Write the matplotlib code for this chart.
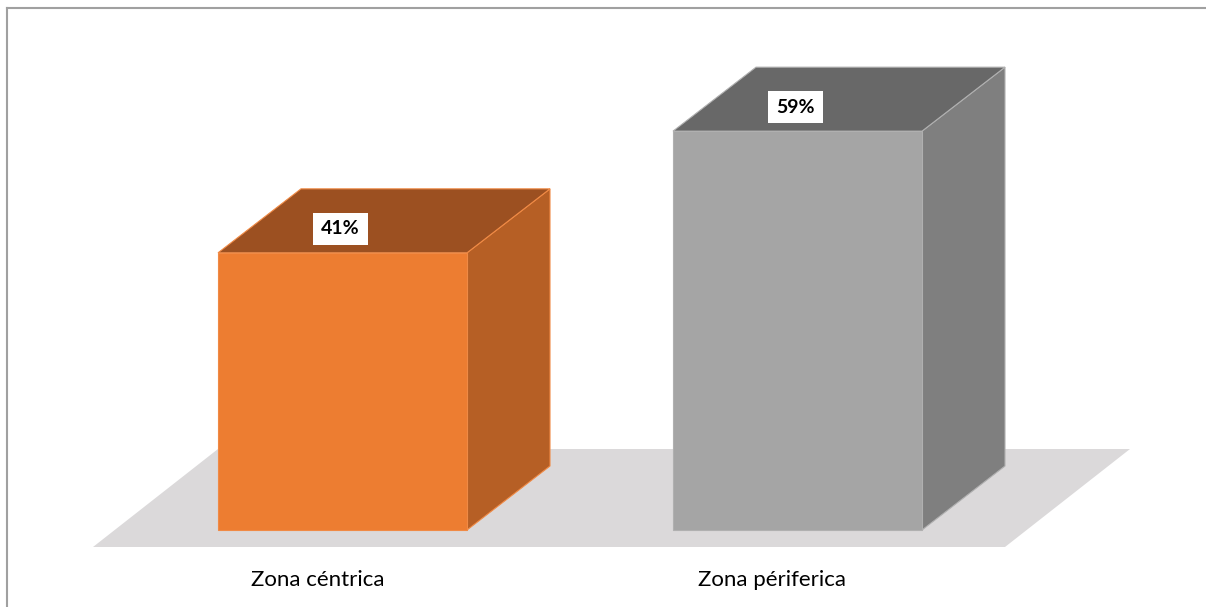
import matplotlib
matplotlib.use("Agg")
import matplotlib.pyplot as plt
from matplotlib.patches import Polygon
from matplotlib.lines import Line2D

categories = ["Zona céntrica", "Zona périferica"]
values = [41, 59]
labels = ["41%", "59%"]

front_colors = ["#ED7D31", "#A5A5A5"]
top_colors = ["#9C5021", "#686868"]
side_colors = ["#B65F25", "#7F7F7F"]
edge_colors = ["#F08A45", "#B0B0B0"]

W, H = 1206, 607
fig = plt.figure(figsize=(W / 100, H / 100), dpi=100)
ax = fig.add_axes([0, 0, 1, 1])

# pixel layout -> data units (x: category index, y: percent)
px_per_cat = 455.0
px_per_pct = 6.76
x0_px = 342.5      # centre of first front face
base_px = 530.0    # bottom of front faces (from top)
ax.set_xlim(-x0_px / px_per_cat, (W - x0_px) / px_per_cat)
ax.set_ylim(-(H - base_px) / px_per_pct, base_px / px_per_pct)
ax.axis("off")

bw = 249 / px_per_cat          # bar width
ddx = 83 / px_per_cat          # depth offset x
ddy = 64 / px_per_pct          # depth offset y

# floor
f_front = -17 / px_per_pct
f_back = 81 / px_per_pct
f_shift = 125 / px_per_cat
fl = (93 - x0_px) / px_per_cat
fr = (1005 - x0_px) / px_per_cat
ax.add_patch(Polygon([(fl, f_front), (fr, f_front), (fr + f_shift, f_back), (fl + f_shift, f_back)],
                     closed=True, facecolor="#DBD9DA", edgecolor="none", zorder=1))

for i, v in enumerate(values):
    l, r = i - bw / 2, i + bw / 2
    front = Polygon([(l, 0), (r, 0), (r, v), (l, v)], closed=True,
                    facecolor=front_colors[i], edgecolor=edge_colors[i], lw=0.8, zorder=3)
    top = Polygon([(l, v), (r, v), (r + ddx, v + ddy), (l + ddx, v + ddy)], closed=True,
                  facecolor=top_colors[i], edgecolor=edge_colors[i], lw=0.8, zorder=2)
    side = Polygon([(r, 0), (r + ddx, ddy), (r + ddx, v + ddy), (r, v)], closed=True,
                   facecolor=side_colors[i], edgecolor=edge_colors[i], lw=0.8, zorder=2)
    ax.add_patch(side)
    ax.add_patch(top)
    ax.add_patch(front)
    ax.text(i - 2 / px_per_cat, v + 24 / px_per_pct, labels[i], ha="center", va="center",
            fontsize=14, fontweight="bold", family=["Lato", "DejaVu Sans"], color="black",
            bbox=dict(boxstyle="square,pad=0.4", facecolor="white", edgecolor="none"), zorder=5)
    ax.text(i - 25 / px_per_cat, -50 / px_per_pct, categories[i], ha="center", va="center",
            fontsize=16, family=["Lato", "DejaVu Sans"], color="black", zorder=5)

# chart border (top and left edges visible)
fig.add_artist(Line2D([7 / W, 1], [1 - 8 / H, 1 - 8 / H], color="#A0A0A0", lw=1.5))
fig.add_artist(Line2D([7 / W, 7 / W], [0, 1 - 8 / H], color="#A0A0A0", lw=1.5))

fig.savefig("out.png", dpi=100)
